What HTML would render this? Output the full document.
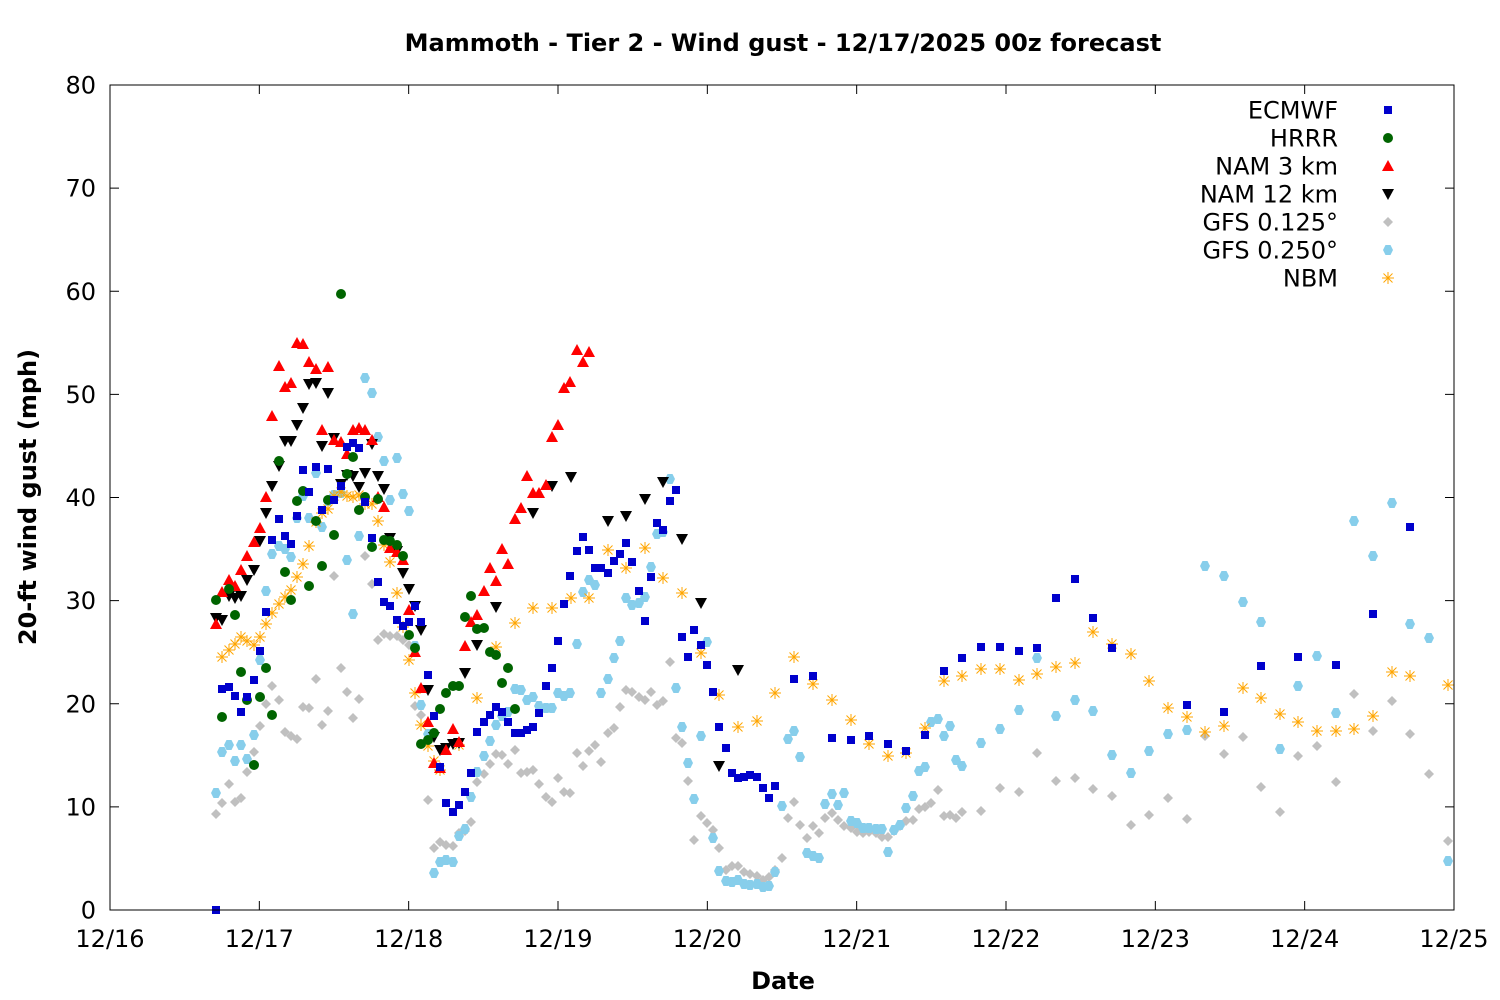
<!DOCTYPE html>
<html><head><meta charset="utf-8"><style>
body{margin:0;background:#fff}
svg{display:block;font-family:"DejaVu Sans","Liberation Sans",sans-serif}
</style></head><body>
<svg id="s" width="1500" height="1000" xmlns="http://www.w3.org/2000/svg">
<rect width="1500" height="1000" fill="#fff"/>
<text x="783" y="51" text-anchor="middle" font-size="24" font-weight="bold">Mammoth - Tier 2 - Wind gust - 12/17/2025 00z forecast</text>
<text x="783" y="989" text-anchor="middle" font-size="24" font-weight="bold">Date</text>
<text transform="translate(36,497) rotate(-90)" text-anchor="middle" font-size="24" font-weight="bold">20-ft wind gust (mph)</text>
<g id="ax"></g>
<g id="pts"></g>
<rect x="110" y="85" width="1344" height="825" fill="none" stroke="#000" stroke-width="1"/>
<g id="leg" font-size="24" text-anchor="end"></g>
</svg>
<script>
const NS="http://www.w3.org/2000/svg";
function el(p,t,a,txt){const e=document.createElementNS(NS,t);for(const k in a)e.setAttribute(k,a[k]);if(txt!==undefined)e.textContent=txt;p.appendChild(e);return e;}
const ax=document.getElementById('ax');
for(let i=0;i<=8;i++){const y=910-i*103.125;
 el(ax,'line',{x1:110,x2:119,y1:y,y2:y,stroke:'#000'});el(ax,'line',{x1:1445,x2:1454,y1:y,y2:y,stroke:'#000'});
 el(ax,'text',{x:96,y:y+8.5,'text-anchor':'end','font-size':24},String(i*10));}
const days=['12/16','12/17','12/18','12/19','12/20','12/21','12/22','12/23','12/24','12/25'];
for(let i=0;i<=9;i++){const x=110+i*149.333;
 el(ax,'line',{x1:x,x2:x,y1:910,y2:901,stroke:'#000'});el(ax,'line',{x1:x,x2:x,y1:85,y2:94,stroke:'#000'});
 el(ax,'text',{x:x,y:947,'text-anchor':'middle','font-size':24},days[i]);}
const P=document.getElementById('pts');
function mk(g,type,x,y){
 if(type==='sq')el(g,'rect',{x:x-4,y:y-4,width:8,height:8,fill:'#0000cc'});
 else if(type==='ci')el(g,'circle',{cx:x,cy:y,r:5,fill:'#006400'});
 else if(type==='up')el(g,'polygon',{points:`${x},${y-6} ${x+6},${y+5} ${x-6},${y+5}`,fill:'#ff0000'});
 else if(type==='dn')el(g,'polygon',{points:`${x},${y+6} ${x+6},${y-5} ${x-6},${y-5}`,fill:'#000'});
 else if(type==='di')el(g,'polygon',{points:`${x},${y-5} ${x+5},${y} ${x},${y+5} ${x-5},${y}`,fill:'#c0c0c0'});
 else if(type==='hx')el(g,'polygon',{points:`${x-2.5},${y-5} ${x+2.5},${y-5} ${x+5},${y} ${x+2.5},${y+5} ${x-2.5},${y+5} ${x-5},${y}`,fill:'#87ceeb'});
 else if(type==='st'){const s='#ffa500';el(g,'line',{x1:x-6,x2:x+6,y1:y,y2:y,stroke:s});el(g,'line',{x1:x,x2:x,y1:y-6,y2:y+6,stroke:s});
  el(g,'line',{x1:x-4.5,x2:x+4.5,y1:y-4.5,y2:y+4.5,stroke:s});el(g,'line',{x1:x-4.5,x2:x+4.5,y1:y+4.5,y2:y-4.5,stroke:s});}
}
function A(s){const a=s.split(/[^0-9.]+/).filter(v=>v).map(Number);const r=[];for(let i=0;i<a.length;i+=2)r.push([a[i],a[i+1]]);return r;}
const data={
di:A("(216,814),(222,803),(229,784),(235,802),(241,798),(247,772),(254,752),(260,726),(266,704),(272,686),(279,700),(285,732),(291,736),(297,739),(303,707),(309,708),(316,679),(322,725),(328,711),(334,576),(341,668),(347,692),(353,718),(359,699),(365,556),(372,584),(378,640),(384,634),(390,636),(397,636),(403,640),(409,645),(415,706),(421,715),(428,800),(434,848),(440,842),(446,845),(453,846),(459,833),(465,831),(471,822),(477,782),(484,774),(490,764),(496,754),(502,755),(508,764),(515,750),(521,773),(527,772),(533,770),(539,784),(546,797),(552,802),(558,778),(564,792),(570,793),(577,753),(583,766),(589,751),(595,745),(601,762),(608,733),(614,728),(620,707),(626,690),(632,692),(639,697),(645,700),(651,692),(657,705),(663,701),(670,662),(676,738),(682,743),(688,781),(694,840),(701,816),(707,823),(713,830),(719,848),(726,870),(732,866),(738,866),(744,872),(750,874),(757,876),(763,880),(769,877),(775,870),(782,858),(788,818),(794,802),(800,825),(807,838),(813,826),(819,833),(825,818),(832,813),(838,820),(844,826),(851,828),(857,832),(863,833),(869,832),(876,833),(882,837),(888,837),(894,831),(900,826),(906,821),(913,820),(919,809),(925,807),(931,803),(938,790),(944,816),(950,815),(956,818),(962,812),(981,811),(1000,788),(1019,792),(1037,753),(1056,781),(1075,778),(1093,789),(1112,796),(1131,825),(1149,815),(1168,798),(1187,819),(1205,736),(1224,754),(1243,737),(1261,787),(1280,812),(1298,756),(1317,746),(1336,782),(1354,694),(1373,731),(1392,701),(1410,734),(1429,774),(1448,841)"),
hx:A("(216,793),(222,752),(229,745),(235,761),(241,745),(247,759),(254,735),(260,660),(266,591),(272,554),(279,546),(285,549),(291,557),(297,518),(303,496),(309,518),(316,473),(322,527),(328,501),(334,495),(341,493),(347,560),(353,614),(359,536),(365,378),(372,393),(378,437),(384,461),(390,500),(397,458),(403,494),(409,511),(415,646),(421,705),(428,734),(434,873),(440,862),(446,860),(453,862),(459,836),(465,829),(471,797),(477,772),(484,756),(490,741),(496,725),(502,716),(508,712),(515,689),(521,690),(527,700),(533,697),(539,706),(546,708),(552,708),(558,693),(564,696),(570,693),(577,644),(583,592),(589,580),(595,585),(601,693),(608,679),(614,658),(620,641),(626,598),(632,605),(639,603),(645,597),(651,567),(657,534),(663,532),(670,479),(676,688),(682,727),(688,763),(694,799),(701,736),(707,642),(713,838),(719,871),(726,881),(732,882),(738,880),(744,884),(750,885),(757,884),(763,887),(769,886),(775,872),(782,806),(788,739),(794,731),(800,757),(807,853),(813,856),(819,858),(825,804),(832,794),(838,805),(844,793),(851,821),(857,823),(863,828),(869,828),(876,829),(882,829),(888,852),(894,830),(900,825),(906,808),(913,796),(919,771),(925,767),(931,722),(938,719),(944,736),(950,726),(956,760),(962,766),(981,743),(1000,729),(1019,710),(1037,658),(1056,716),(1075,700),(1093,711),(1112,755),(1131,773),(1149,751),(1168,734),(1187,730),(1205,566),(1224,576),(1243,602),(1261,622),(1280,749),(1298,686),(1317,656),(1336,713),(1354,521),(1373,556),(1392,503),(1410,624),(1429,638),(1448,861)"),
st:A("(222,657),(229,650),(235,644),(241,637),(247,641),(254,645),(260,637),(266,624),(272,613),(279,604),(285,597),(291,590),(297,577),(303,564),(309,546),(316,522),(322,513),(328,509),(334,496),(341,492),(347,496),(353,497),(359,495),(365,504),(372,504),(378,521),(384,545),(390,562),(397,593),(403,627),(409,660),(415,693),(421,725),(428,746),(434,761),(440,770),(459,745),(477,698),(496,647),(515,623),(533,608),(552,608),(571,598),(589,598),(608,550),(626,568),(645,548),(663,578),(682,593),(701,653),(719,695),(738,727),(757,721),(775,693),(794,657),(813,684),(832,700),(851,720),(869,744),(888,756),(906,753),(925,728),(944,681),(962,676),(981,669),(1000,669),(1019,680),(1037,674),(1056,667),(1075,663),(1093,632),(1112,644),(1131,654),(1149,681),(1168,708),(1187,717),(1205,732),(1224,726),(1243,688),(1261,698),(1280,714),(1298,722),(1317,731),(1336,731),(1354,729),(1373,716),(1392,672),(1410,676),(1448,685)"),
dn:A("(216,618),(222,620),(229,596),(235,598),(241,596),(247,580),(254,570),(260,541),(266,513),(272,486),(279,466),(285,441),(291,441),(297,425),(303,408),(309,384),(316,383),(322,446),(328,393),(334,438),(341,484),(347,475),(353,476),(359,487),(365,473),(372,444),(378,476),(384,489),(390,538),(397,551),(403,573),(409,589),(415,606),(421,630),(428,690),(434,737),(440,750),(446,748),(453,744),(459,743),(465,673),(477,645),(496,607),(533,513),(552,486),(571,477),(608,521),(626,516),(645,499),(663,482),(682,539),(701,603),(719,766),(738,670)"),
up:A("(216,624),(222,592),(229,580),(235,586),(241,570),(247,556),(254,542),(260,528),(266,497),(272,416),(279,366),(285,387),(291,383),(297,343),(303,344),(309,362),(316,369),(322,430),(328,367),(334,440),(341,442),(347,454),(353,430),(359,428),(365,430),(372,440),(378,497),(384,507),(390,548),(397,552),(403,560),(409,610),(415,652),(421,688),(428,722),(434,763),(440,768),(446,750),(453,729),(459,742),(465,646),(471,622),(477,615),(484,591),(490,568),(496,581),(502,549),(508,564),(515,519),(521,508),(527,476),(533,493),(539,493),(546,485),(552,437),(558,425),(564,388),(570,382),(577,350),(583,362),(589,352)"),
ci:A("(216,600),(222,717),(229,589),(235,615),(241,672),(247,700),(254,765),(260,697),(266,668),(272,715),(279,461),(285,572),(291,600),(297,501),(303,491),(309,586),(316,521),(322,566),(328,500),(334,535),(341,294),(347,474),(353,457),(359,510),(365,497),(372,547),(378,499),(384,540),(390,541),(397,545),(403,556),(409,635),(415,648),(421,744),(428,740),(434,733),(440,709),(446,693),(453,686),(459,686),(465,617),(471,596),(477,629),(484,628),(490,652),(496,655),(502,683),(508,668),(515,709)"),
sq:A("(216,910),(222,689),(229,687),(235,696),(241,712),(247,697),(254,680),(260,651),(266,612),(272,540),(279,519),(285,536),(291,544),(297,516),(303,470),(309,492),(316,467),(322,510),(328,469),(334,500),(341,486),(347,447),(353,443),(359,448),(365,502),(372,538),(378,582),(384,602),(390,606),(397,620),(403,626),(409,622),(415,606),(421,622),(428,675),(434,716),(440,767),(446,803),(453,812),(459,805),(465,792),(471,773),(477,732),(484,722),(490,715),(496,707),(502,712),(508,722),(515,733),(521,733),(527,730),(533,727),(539,713),(546,686),(552,668),(558,641),(564,604),(570,576),(577,551),(583,537),(589,550),(595,568),(601,568),(608,573),(614,561),(620,554),(626,543),(632,562),(639,591),(645,621),(651,577),(657,523),(663,530),(670,501),(676,490),(682,637),(688,657),(694,630),(701,645),(707,665),(713,692),(719,727),(726,748),(732,773),(738,778),(744,777),(750,775),(757,777),(763,788),(769,798),(775,786),(794,679),(813,676),(832,738),(851,740),(869,736),(888,744),(906,751),(925,735),(944,671),(962,658),(981,647),(1000,647),(1019,651),(1037,648),(1056,598),(1075,579),(1093,618),(1112,648),(1187,705),(1224,712),(1261,666),(1298,657),(1336,665),(1373,614),(1410,527)")
};
for(const t of ['di','hx','st','dn','up','ci','sq'])for(const [x,y] of data[t])mk(P,t,x,y);
const L=document.getElementById('leg');
const names=[['ECMWF','sq'],['HRRR','ci'],['NAM 3 km','up'],['NAM 12 km','dn'],['GFS 0.125°','di'],['GFS 0.250°','hx'],['NBM','st']];
names.forEach((n,i)=>{const y=110+i*28;el(L,'text',{x:1338,y:y+8.5},n[0]);mk(L,n[1],1388,y);});
</script>
</body></html>
